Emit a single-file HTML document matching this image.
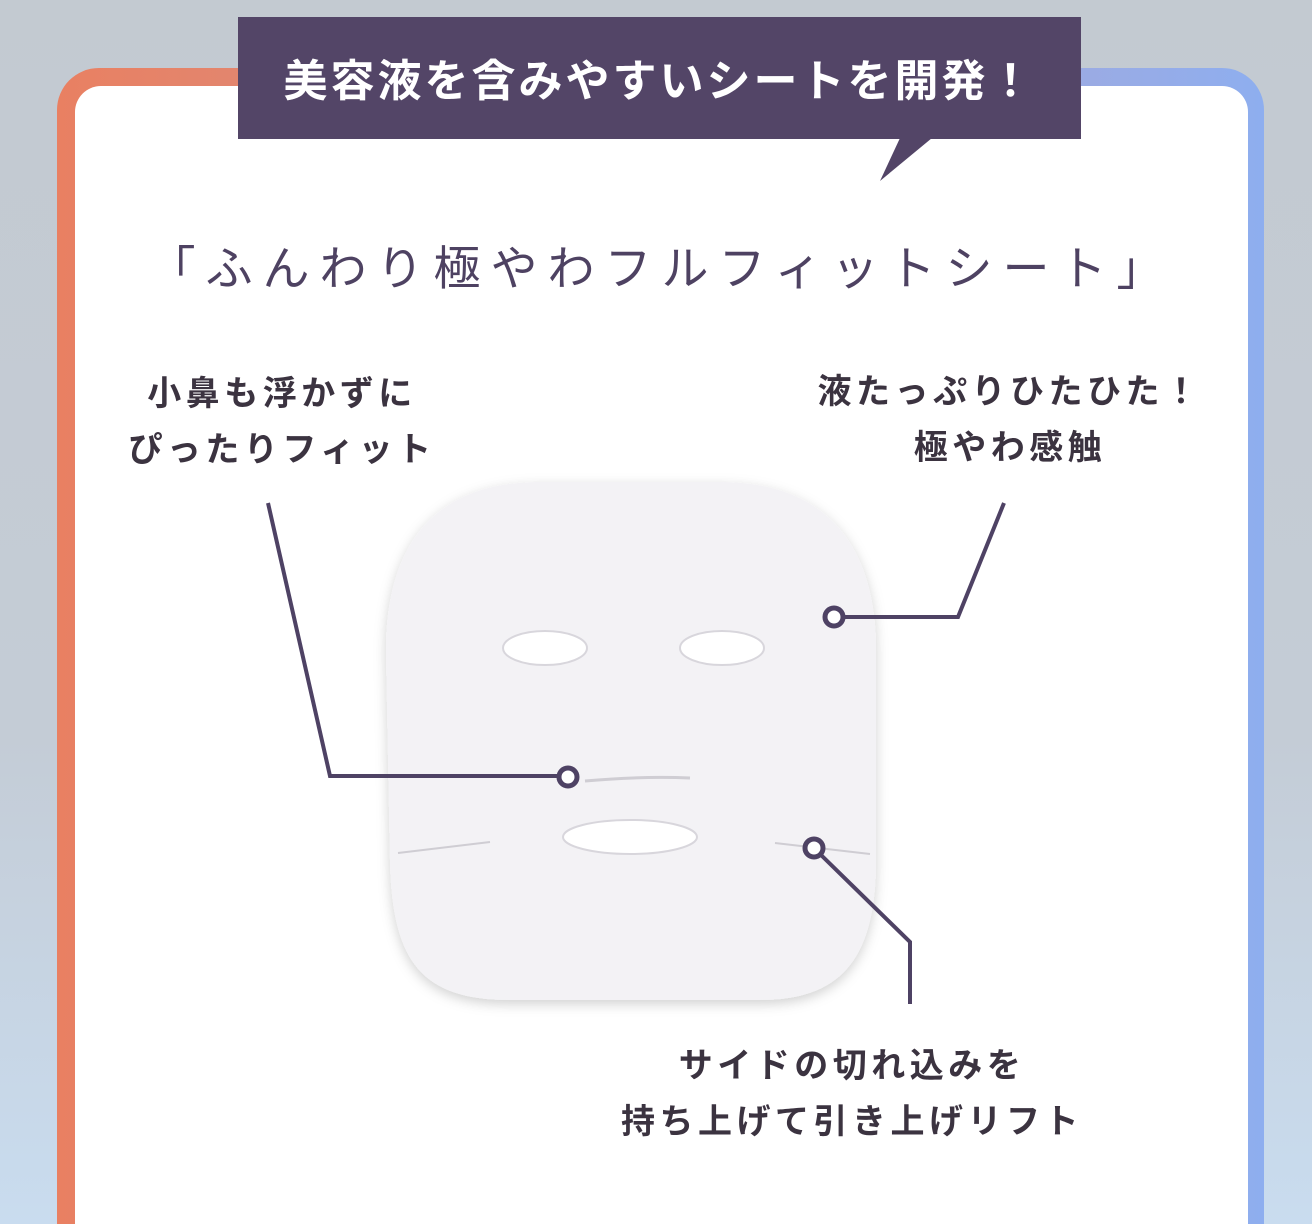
<!DOCTYPE html>
<html><head><meta charset="utf-8"><style>
html,body{margin:0;width:1312px;height:1224px;overflow:hidden}
body{font-family:"Liberation Sans","Noto Sans CJK JP",sans-serif}
#wrap{position:relative;width:1312px;height:1224px;overflow:hidden;background:linear-gradient(180deg,#c3cad1 0%,#c4ccd6 60%,#c9dcef 100%)}
.card{position:absolute;left:57px;top:68px;width:1207px;height:1156px;border-radius:42px 42px 0 0;background:linear-gradient(90deg,#e98062 0%,#dc8b7a 30%,#a3a9dc 75%,#8eaeef 100%)}
.inner{position:absolute;left:75px;top:86px;width:1173px;height:1138px;border-radius:26px 26px 0 0;background:#fff}
.banner{position:absolute;left:238px;top:17px;width:843px;height:122px;background:#534567;color:#fff;font-weight:bold;font-size:44px;text-align:center;line-height:130px;letter-spacing:3px}
.t{position:absolute;text-align:center;white-space:nowrap}
.sub{left:0;width:1312px;top:230px;font-size:47px;color:#4e4262;letter-spacing:10px;padding-left:10px;box-sizing:border-box}
.lab{font-weight:bold;font-size:34px;color:#3b3340;line-height:56px;letter-spacing:4.5px}
</style></head><body><div id="wrap">
<div class="card"></div><div class="inner"></div>
<svg width="1312" height="1224" style="position:absolute;left:0;top:0">
<defs><filter id="sh" x="-10%" y="-10%" width="120%" height="120%"><feDropShadow dx="0" dy="4" stdDeviation="6" flood-color="#000" flood-opacity="0.18"/></filter></defs>
<polygon points="900,138 880,181 932,138" fill="#534567"/>
<path d="M540,482 L720,482 C830,482 876,550 876,650 L876,860 C876,960 840,1000 760,1000 L510,1000 C420,1000 392,960 390,860 L386,650 C386,550 430,482 540,482 Z" fill="#f3f2f5" filter="url(#sh)"/>
<ellipse cx="545" cy="648" rx="42" ry="17" fill="#fff" stroke="#d8d6dc" stroke-width="2"/>
<ellipse cx="722" cy="648" rx="42" ry="17" fill="#fff" stroke="#d8d6dc" stroke-width="2"/>
<ellipse cx="630" cy="837" rx="67" ry="17" fill="#fff" stroke="#d8d6dc" stroke-width="2"/>
<path d="M585,781 Q640,776 690,778" stroke="#cfcdd3" stroke-width="3" fill="none"/>
<path d="M398,853 L490,842 M775,843 L870,854" stroke="#cfcdd3" stroke-width="2" fill="none"/>
<g stroke="#4e4264" stroke-width="4" fill="none">
<polyline points="268,503 330,776 560,776"/>
<polyline points="1004,503 958,617 843,617"/>
<polyline points="820,854 910,942 910,1004"/>
</g>
<g stroke="#4e4264" stroke-width="5" fill="#fff">
<circle cx="568" cy="777" r="9"/><circle cx="834" cy="617" r="9"/><circle cx="814" cy="848" r="9"/>
</g>
</svg>
<div class="banner">美容液を含みやすいシートを開発！</div>
<div class="t sub">「ふんわり極やわフルフィットシート」</div>
<div class="t lab" style="left:82px;width:400px;top:366px">小鼻も浮かずに<br>ぴったりフィット</div>
<div class="t lab" style="left:790px;width:440px;top:364px">液たっぷりひたひた！<br>極やわ感触</div>
<div class="t lab" style="left:600px;width:504px;top:1038px">サイドの切れ込みを<br>持ち上げて引き上げリフト</div>
</div></body></html>
